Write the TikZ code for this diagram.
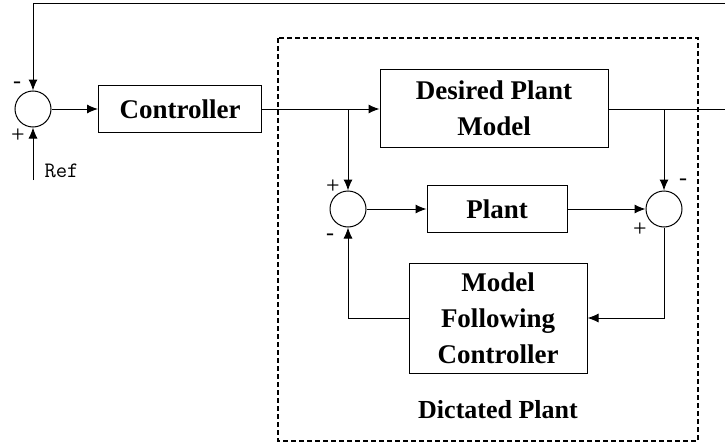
\documentclass[tikz,border=0pt]{standalone}
\usepackage{fontspec}
\setmainfont{Liberation Serif}
\usetikzlibrary{arrows.meta, positioning, calc}

\begin{document}
\begin{tikzpicture}[x=1pt, y=-1pt, line width=1pt,
        block/.style={draw, rectangle, inner sep=0pt, align=center,
            font=\fontsize{27}{36}\selectfont\bfseries},
        sumnode/.style={draw, circle, minimum size=36pt, inner sep=0pt},
        sign/.style={font=\fontsize{24}{24}\selectfont, inner sep=0pt},
        arr/.style={-{Latex[length=11pt, width=9pt]}}]
        \useasboundingbox (0,0) rectangle (725,444);

        % Dictated plant frame
        \draw[dashed, line width=1.2pt, dash pattern=on 5pt off 3pt] (278,38) rectangle (698,441);
        \node[font=\fontsize{26}{30}\selectfont\bfseries] (dictlbl) at (498,410) {Dictated Plant};

        % Outer loop
        \node[sumnode] (sum1) at (33,109) {};
        \node[block, minimum width=163pt, minimum height=47pt] (ctrl) at (180,109) {Controller};
        \coordinate (ref) at (33,180);
        \node[font=\fontsize{22}{22}\selectfont\ttfamily, anchor=west, inner sep=0pt] (reflbl) at (44,171) {Ref};

        % Desired plant model
        \node[block, minimum width=228pt, minimum height=78pt] (dpm) at (494,108) {Desired Plant\\Model};

        % Inner loop
        \node[sumnode] (sum2) at (348,209) {};
        \node[block, minimum width=140pt, minimum height=47pt] (plant) at (497,209) {Plant};
        \node[sumnode] (sum3) at (664,209) {};
        \node[block, minimum width=178pt, minimum height=110pt] (mfc) at (498,318) {Model\\Following\\Controller};

        % Branch points
        \coordinate (br1) at (348,109);
        \coordinate (br2) at (664,109);
        \coordinate (outr) at (725,109);
        \coordinate (topr) at (725,4);
        \coordinate (topl) at (33,4);

        % Arrows
        \draw[arr] (topr) -- (topl) -- (sum1.north);
        \draw[arr] (ref) -- (sum1.south);
        \draw[arr] (sum1.east) -- (ctrl.west);
        \draw[arr] (ctrl.east) -- (ctrl.east -| dpm.west);
        \draw (dpm.east |- outr) -- (outr);
        \draw[arr] (br1) -- (sum2.north);
        \draw[arr] (br2) -- (sum3.north);
        \draw[arr] (sum2.east) -- (plant.west);
        \draw[arr] (plant.east) -- (sum3.west);
        \draw[arr] (sum3.south) |- (mfc.east);
        \draw[arr] (mfc.west) -| (sum2.south);

        % Signs
        \node[sign] (s1m) at (17,85) {-};
        \node[sign] (s1p) at (18,136) {+};
        \node[sign] (s2p) at (333,187) {+};
        \node[sign] (s2m) at (330,237) {-};
        \node[sign] (s3m) at (683,182) {-};
        \node[sign] (s3p) at (640,230) {+};
    \end{tikzpicture}
\end{document}
